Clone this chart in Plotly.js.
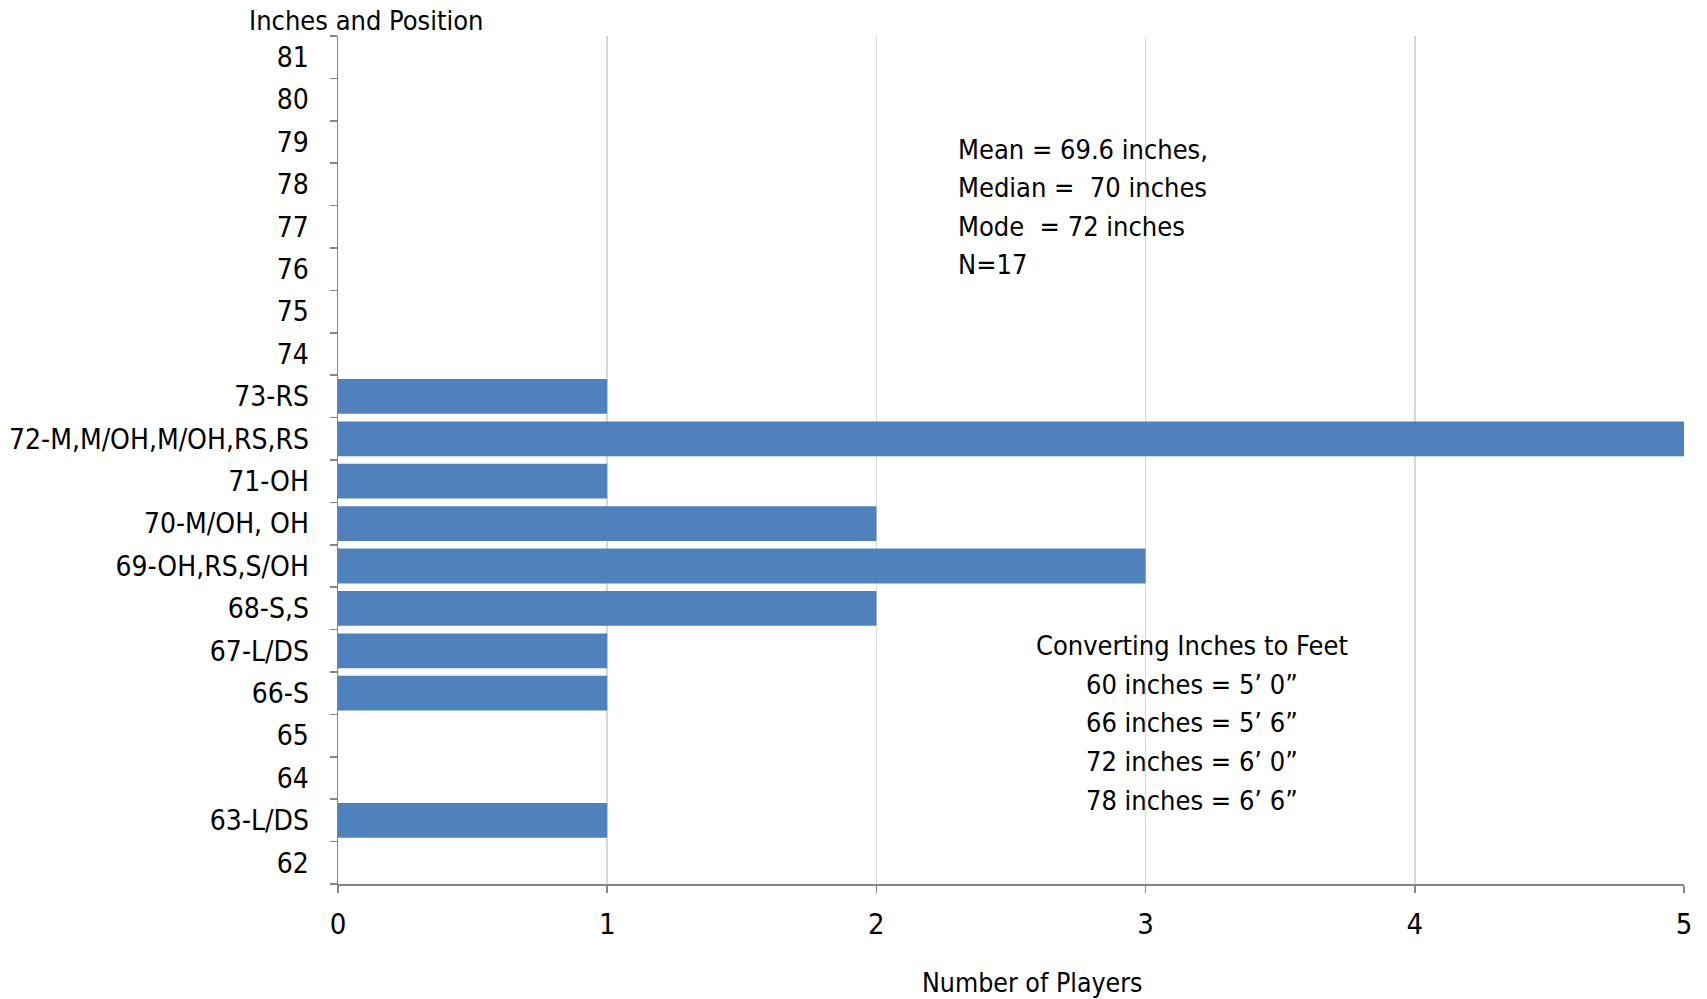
<!DOCTYPE html>
<html>
<head>
<meta charset="utf-8">
<script src="https://cdn.plot.ly/plotly-3.0.1.min.js"></script>
<style>html,body{margin:0;padding:0;background:#fff;}#chart{width:1707px;height:999px;}</style>
</head>
<body>
<div id="chart"></div>
<script>
const categories = ['62','63-L/DS','64','65','66-S','67-L/DS','68-S,S','69-OH,RS,S/OH','70-M/OH, OH','71-OH','72-M,M/OH,M/OH,RS,RS','73-RS','74','75','76','77','78','79','80','81'];
const playerCounts = [0,1,0,0,1,1,2,3,2,1,5,1,0,0,0,0,0,0,0,0];
const xTicks = [0,1,2,3,4,5];
const statsLines = ['Mean = 69.6 inches,', 'Median =  70 inches', 'Mode  = 72 inches', 'N=17'];
const convLines = ['Converting Inches to Feet', '60 inches = 5\u2019 0\u201d', '66 inches = 5\u2019 6\u201d', '72 inches = 6\u2019 0\u201d', '78 inches = 6\u2019 6\u201d'];

const FONT = '"Liberation Sans Narrow", "Arial Narrow", "DejaVu Sans Condensed", sans-serif';

const trace = {
  type: 'bar',
  orientation: 'h',
  y: categories,
  x: playerCounts,
  marker: {color: '#4F81BD', line: {width: 0}},
  hoverinfo: 'x+y'
};

// text block placement (paper coordinates)
const statsX = 0.4591, statsY0 = 0.8666, statsStep = 0.0454;
const convX = 0.6345, convY0 = 0.2812, convStep = 0.0456;

const annotations = [
  {
    xref: 'paper', yref: 'paper', x: 0.021, y: 1.018,
    xanchor: 'center', yanchor: 'middle',
    text: 'Inches and Position', showarrow: false,
    font: {family: FONT, size: 27, color: '#000'}
  },
  {
    xref: 'paper', yref: 'paper', x: 0.516, y: -0.1156,
    xanchor: 'center', yanchor: 'middle',
    text: 'Number of Players', showarrow: false,
    font: {family: FONT, size: 26.5, color: '#000'}
  }
];
statsLines.forEach((t, i) => annotations.push({
  xref: 'paper', yref: 'paper', x: statsX, y: statsY0 - i * statsStep,
  xanchor: 'left', yanchor: 'middle', align: 'left',
  text: t, showarrow: false,
  font: {family: FONT, size: 27, color: '#000'}
}));
convLines.forEach((t, i) => annotations.push({
  xref: 'paper', yref: 'paper', x: convX, y: convY0 - i * convStep,
  xanchor: 'center', yanchor: 'middle', align: 'center',
  text: t, showarrow: false,
  font: {family: FONT, size: 27, color: '#000'}
}));

const layout = {
  width: 1707,
  height: 999,
  margin: {l: 338, r: 23, t: 36, b: 115},
  paper_bgcolor: '#ffffff',
  plot_bgcolor: '#ffffff',
  font: {family: FONT, size: 28, color: '#000000'},
  showlegend: false,
  bargap: 0.18,
  xaxis: {
    range: [0, 5],
    tickvals: xTicks,
    ticktext: xTicks.map(String),
    showgrid: true,
    gridcolor: '#D9D9D9',
    gridwidth: 1.5,
    zeroline: false,
    showline: true,
    linecolor: '#868686',
    linewidth: 1.5,
    ticks: 'outside',
    ticklen: 7,
    tickcolor: '#868686',
    tickwidth: 1.5,
    ticklabelstandoff: 7,
    tickfont: {family: FONT, size: 29, color: '#000'},
    fixedrange: true
  },
  yaxis: {
    type: 'category',
    categoryorder: 'array',
    categoryarray: categories,
    range: [-0.5, categories.length - 0.5],
    showgrid: false,
    zeroline: false,
    showline: true,
    linecolor: '#868686',
    linewidth: 1.5,
    ticks: 'outside',
    tickson: 'boundaries',
    ticklen: 7,
    tickcolor: '#868686',
    tickwidth: 1.5,
    ticklabelstandoff: 22,
    tickfont: {family: FONT, size: 28, color: '#000'},
    fixedrange: true
  },
  annotations: annotations
};

Plotly.newPlot('chart', [trace], layout, {displayModeBar: false, staticPlot: true});
</script>
</body>
</html>
